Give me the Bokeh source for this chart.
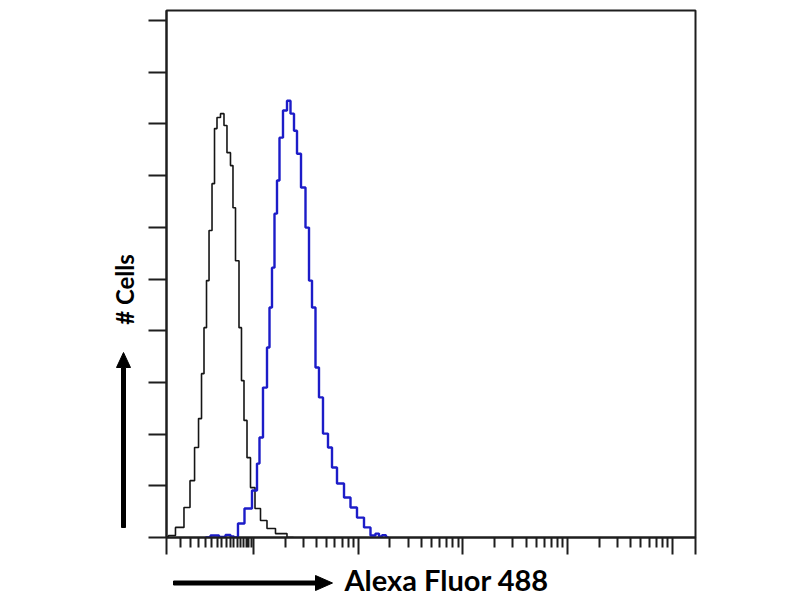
from bokeh.plotting import figure
from bokeh.layouts import row, column
from bokeh.models import Range1d, FixedTicker, Label, CustomJSTickFormatter
from bokeh.embed import file_html
from bokeh.resources import INLINE

# ---- data (fluorescence intensity, cell counts) ----
control_intensity = [1.48, 1.61, 2.01, 2.34, 2.62, 2.86, 3.12, 3.26, 3.48, 3.64,
                     3.89, 4.15, 4.34, 4.63, 5.06, 5.40, 5.77, 6.30, 6.44, 7.04,
                     7.51, 7.85, 8.39, 8.96, 9.78, 10.92, 12.46, 14.53, 18.10, 24.09]
control_counts = [0.3, 0.8, 3.9, 11.6, 22.0, 34.8, 46.0, 63.4, 81.2, 99.4,
                  118.8, 136.9, 158.2, 162.5, 164.0, 159.4, 148.9, 143.9, 127.6, 107.1,
                  81.2, 60.7, 45.3, 30.9, 19.3, 11.2, 6.6, 3.5, 1.5, 0.0]

stained_intensity = [3.48, 4.34, 5.06, 5.77, 6.30, 6.73, 7.51, 8.96, 10.45, 11.16,
                     11.66, 13.02, 13.91, 14.53, 15.52, 16.22, 17.33, 18.10, 20.21, 21.59,
                     23.57, 25.18, 26.90, 30.02, 32.78, 35.02, 37.40, 40.83, 43.61, 48.69,
                     54.35, 58.05, 67.72, 78.99, 90.09, 105.1, 122.6, 139.8, 152.7, 163.1,
                     174.2, 194.5]
stained_counts = [0.0, 0.8, 0.2, 1.0, 0.4, 0.0, 5.4, 11.2, 18.2, 28.6,
                  38.7, 58.0, 73.5, 89.0, 104.4, 125.3, 138.1, 154.7, 165.2, 169.0,
                  164.0, 157.4, 148.5, 135.4, 119.9, 99.4, 89.0, 65.8, 54.2, 40.2,
                  34.8, 27.1, 20.9, 15.5, 11.6, 7.7, 3.9, 0.8, 1.5, 0.4,
                  0.9, 0.0]

x_label = "Alexa Fluor 488"
y_label = "# Cells"

# ---- layout geometry (pixels) ----
TOTAL_H = 596
LEFT_W = 141          # width of the y-title strip
MAIN_W, MAIN_H = 579, 555
BOTTOM_H = TOTAL_H - MAIN_H
BORDER_L, BORDER_R = 25, 25
INK = "#1e1e1e"
FONT = "Lato"

# ---- main histogram figure ----
X_START, X_END = 1.477, 1.66e5
p = figure(width=MAIN_W, height=MAIN_H, x_axis_type="log",
           x_range=Range1d(X_START, X_END), y_range=Range1d(0, 203.9),
           output_backend="svg", toolbar_location=None,
           min_border_left=BORDER_L, min_border_right=BORDER_R,
           min_border_top=10, min_border_bottom=18)
p.background_fill_color = "white"
p.border_fill_color = "white"
p.grid.visible = False
p.outline_line_color = INK
p.outline_line_width = 2

majors = [1.49, 10, 100, 1000, 10000, 100000, 1.655e5]
minors = [v / 2 for v in range(4, 20)]
for n in range(1, 5):
    minors += [k * 10 ** n for k in range(2, 10)]
p.xaxis.ticker = FixedTicker(ticks=majors, minor_ticks=minors)
p.xaxis.major_tick_out = 17
p.xaxis.minor_tick_out = 10
p.yaxis.ticker = FixedTicker(ticks=list(range(0, 201, 20)), minor_ticks=[])
p.yaxis.major_tick_out = 18

for ax in (p.xaxis, p.yaxis):
    ax.formatter = CustomJSTickFormatter(code="return ''")
    ax.major_tick_in = 0
    ax.minor_tick_in = 0
    ax.major_label_text_font_size = "0px"
    ax.major_label_standoff = 0
    ax.axis_line_width = 2
    ax.axis_line_color = INK
    ax.major_tick_line_width = 2
    ax.major_tick_line_color = INK
    ax.minor_tick_line_width = 2
    ax.minor_tick_line_color = INK

p.step(control_intensity, control_counts, mode="center",
       line_color="#151515", line_width=1.6)
p.step(stained_intensity, stained_counts, mode="center",
       line_color="#1c1cc8", line_width=2.4)


def strip(w, h, x0, x1, y0, y1, bl=0, br=0):
    f = figure(width=w, height=h, x_range=Range1d(x0, x1), y_range=Range1d(y0, y1),
               output_backend="svg", toolbar_location=None,
               x_axis_location=None, y_axis_location=None,
               min_border_left=bl, min_border_right=br,
               min_border_top=0, min_border_bottom=0, outline_line_color=None)
    f.grid.visible = False
    f.background_fill_color = "white"
    f.border_fill_color = "white"
    return f


# page-pixel y (down) -> strip y (up)
up = lambda ys: [TOTAL_H - v for v in ys]

# ---- left strip: "# Cells" with upward arrow ----
left = strip(LEFT_W, TOTAL_H, 0, LEFT_W, 0, TOTAL_H)
left.add_layout(Label(x=124, y=up([289])[0], text=y_label, angle=1.5707963,
                      text_font=FONT, text_font_style="bold", text_font_size="24px",
                      text_color="black", text_align="center", text_baseline="middle"))
left.patch([121, 121, 116, 123, 130, 125, 125],
           up([527, 367, 367, 352, 367, 367, 527]),
           fill_color="black", line_color="black", line_width=1)

# ---- bottom strip: rightward arrow with "Alexa Fluor 488" (page x coords) ----
fx0 = LEFT_W + BORDER_L
fx1 = LEFT_W + MAIN_W - BORDER_R
bottom = strip(MAIN_W, BOTTOM_H, fx0, fx1, 0, BOTTOM_H, bl=BORDER_L, br=BORDER_R)
bottom.add_layout(Label(x=344, y=up([578.5])[0], text=x_label,
                        text_font=FONT, text_font_style="bold", text_font_size="29px",
                        text_color="black", text_align="left",
                        text_baseline="middle"))
bottom.patch([173, 315, 315, 332, 315, 315, 173],
             up([580.5, 580.5, 575, 582.5, 590, 584.5, 584.5]),
             fill_color="black", line_color="black", line_width=1)

page = row(left, column(p, bottom, spacing=0), spacing=0)
open("out.html", "w").write(file_html(page, INLINE))
